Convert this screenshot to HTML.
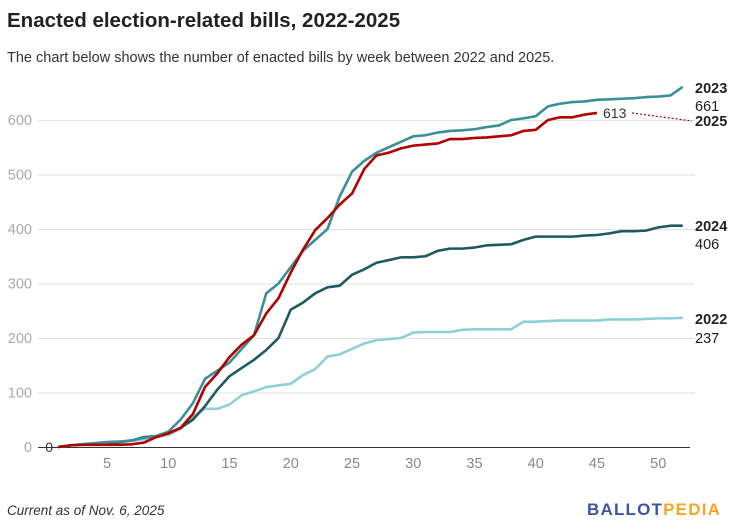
<!DOCTYPE html>
<html><head><meta charset="utf-8"><style>
body{margin:0;width:730px;height:526px;background:#fff;font-family:"Liberation Sans",sans-serif;overflow:hidden}
</style></head><body>
<svg width="730" height="526" xmlns="http://www.w3.org/2000/svg" font-family="Liberation Sans, sans-serif">
<text x="7" y="27" font-size="20.5" font-weight="bold" fill="#222">Enacted election-related bills, 2022-2025</text>
<text x="7" y="62" font-size="14.5" fill="#333">The chart below shows the number of enacted bills by week between 2022 and 2025.</text>
<g id="grid" stroke="#e2e2e2" stroke-width="1"></g>
<g id="ylab" font-size="14.5" fill="#aaa" text-anchor="end"></g>
<line x1="38" y1="447.5" x2="690" y2="447.5" stroke="#333" stroke-width="1"/>
<text x="53" y="452" font-size="14" fill="#333" text-anchor="end">0</text>
<g id="xlab" font-size="14.5" fill="#888" text-anchor="middle"></g>
<g id="lines" fill="none" stroke-width="2.6" stroke-linejoin="round"></g>
<line x1="632" y1="113" x2="692" y2="121" stroke="#b00000" stroke-width="1.2" stroke-dasharray="2,2"/>
<text x="603" y="118" font-size="14" fill="#333">613</text>
<g font-size="14.5" fill="#222">
<text x="695" y="93" font-weight="bold">2023</text>
<text x="695" y="111">661</text>
<text x="695" y="126" font-weight="bold">2025</text>
<text x="695" y="231" font-weight="bold">2024</text>
<text x="695" y="249">406</text>
<text x="695" y="324" font-weight="bold">2022</text>
<text x="695" y="343">237</text>
</g>
<text x="7" y="515" font-size="13.5" font-style="italic" fill="#333">Current as of Nov. 6, 2025</text>
<text x="587" y="515" font-size="17" font-weight="bold" letter-spacing="1.2" fill="#3a55a8">BALLOT<tspan fill="#f5a623">PEDIA</tspan></text>
</svg>
<script>
const X=w=>107+(w-5)*12.25, Y=v=>447-v*0.545;
const ns="http://www.w3.org/2000/svg";
function el(p,t,a,txt){const e=document.createElementNS(ns,t);for(const k in a)e.setAttribute(k,a[k]);if(txt!=null)e.textContent=txt;document.getElementById(p).appendChild(e);}
for(let v=100;v<=600;v+=100){el('grid','line',{x1:38,x2:695,y1:Y(v)+.5,y2:Y(v)+.5});el('ylab','text',{x:32,y:Y(v)+5},v);}
el('ylab','text',{x:32,y:452},0);
for(let w=5;w<=50;w+=5)el('xlab','text',{x:X(w),y:468},w);
const d={
"#8fd0d5":[0,3,5,6,8,10,11,14,18,22,33,55,70,70,78,95,102,110,113,116,132,143,166,170,180,190,196,198,200,210,211,211,211,215,216,216,216,216,230,230,231,232,232,232,232,234,234,234,235,236,236,237],
"#1d5a5e":[0,3,5,6,8,9,12,18,20,25,35,50,75,105,130,145,160,178,200,252,265,282,293,296,316,326,338,343,348,348,350,360,364,364,366,370,371,372,380,386,386,386,386,388,389,392,396,396,397,403,406,406],
"#3a8f99":[0,3,5,7,9,10,12,17,20,28,50,80,125,140,155,180,205,282,300,330,360,380,400,460,505,525,540,550,560,570,572,577,580,581,583,587,590,600,603,607,625,630,633,634,637,638,639,640,642,643,645,661],
"#b00000":[0,3,4,4,4,4,5,8,18,25,35,60,110,135,165,188,205,245,273,320,362,398,420,445,465,510,535,540,548,553,555,557,565,565,567,568,570,572,580,582,600,605,605,610,613]};
for(const c in d)el('lines','polyline',{stroke:c,points:d[c].map((v,i)=>X(i+1)+','+Y(v)).join(' ')});
</script>
</body></html>
